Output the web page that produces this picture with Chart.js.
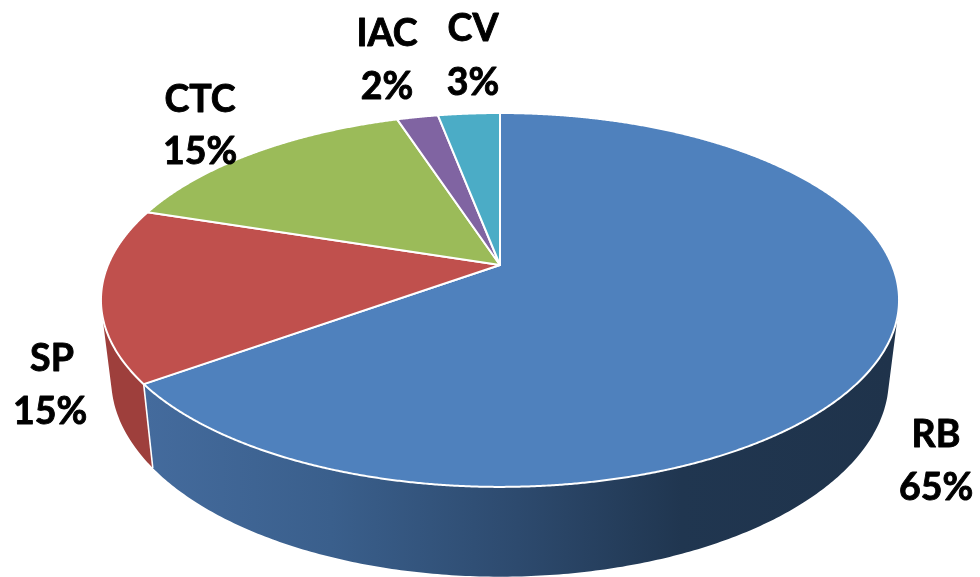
<!DOCTYPE html>
<html>
<head>
<meta charset="utf-8">
<style>html,body{margin:0;padding:0;background:#fff}canvas{display:block}</style>
<script src="https://cdn.jsdelivr.net/npm/chart.js@4/dist/chart.umd.min.js"></script>
</head>
<body>
<canvas id="c" width="980" height="577"></canvas>
<script>
const categories = ["RB", "SP", "CTC", "IAC", "CV"];
const shares = [65, 15, 15, 2, 3];
const faceColors = ["#4F81BD", "#C0504D", "#9BBB59", "#8064A2", "#4BACC6"];
const wallColors = [null, "#9E3F3C", "#7C9647", "#664F82", "#3C899E"];
const labelCenters = [[936, 435], [52, 359], [200, 100], [387, 34], [473, 29]];
const percentCenters = [[936, 488], [50, 412], [200, 152], [387, 87], [473, 83]];

// Perspective view of the disc: centre goes to the apex, the rim becomes an ellipse.
const top3d = {x0: 500, y0: 265, ax: 392, by: 180.4, k: -0.187};
const bottom3d = {x0: 500, y0: 342, ax: 382, by: 190.8, k: -0.187};
function project(p, a, r) {
  const u = Math.cos(a) * r, v = Math.sin(a) * r, w = 1 + p.k * v;
  return [p.x0 + p.ax * u / w, p.y0 + p.by * v / w];
}
function rim(ctx, p, a0, a1, first) {
  const n = Math.max(2, Math.ceil(Math.abs(a1 - a0) / 0.004));
  for (let i = 0; i <= n; i++) {
    const q = project(p, a0 + (a1 - a0) * i / n, 1);
    if (i === 0 && first) ctx.moveTo(q[0], q[1]); else ctx.lineTo(q[0], q[1]);
  }
}
// The wall is the sweep of the rim's vertical edge, so build it from same-winding quads.
function wallPath(ctx, a0, a1) {
  const n = Math.max(2, Math.ceil(Math.abs(a1 - a0) / 0.01));
  ctx.beginPath();
  for (let i = 0; i < n; i++) {
    const s = a0 + (a1 - a0) * i / n, t = a0 + (a1 - a0) * (i + 1) / n;
    const q = [project(top3d, s, 1), project(top3d, t, 1), project(bottom3d, t, 1), project(bottom3d, s, 1)];
    let area = 0;
    q.forEach((m, j) => { const o = q[(j + 1) % 4]; area += m[0] * o[1] - o[0] * m[1]; });
    if (area < 0) q.reverse();
    ctx.moveTo(q[0][0], q[0][1]);
    ctx.lineTo(q[1][0], q[1][1]);
    ctx.lineTo(q[2][0], q[2][1]);
    ctx.lineTo(q[3][0], q[3][1]);
    ctx.closePath();
  }
}
const pie3d = {
  id: "pie3d",
  beforeDatasetDraw(chart) {
    const ctx = chart.ctx, arcs = chart.getDatasetMeta(0).data;
    ctx.save();
    // side walls
    const grad = ctx.createLinearGradient(145, 0, 890, 0);
    grad.addColorStop(0, "#446B9D");
    grad.addColorStop(0.25, "#3A5F8C");
    grad.addColorStop(0.5, "#2D4A6E");
    grad.addColorStop(0.72, "#203650");
    grad.addColorStop(1, "#1F334B");
    arcs.forEach((el, i) => {
      wallPath(ctx, el.startAngle, el.endAngle);
      ctx.fillStyle = i === 0 ? grad : wallColors[i];
      ctx.fill();
    });
    // edge between the two front walls
    const e = arcs[0].endAngle, p1 = project(top3d, e, 1), p2 = project(bottom3d, e, 1);
    ctx.strokeStyle = "#fff";
    ctx.lineWidth = 1.6;
    ctx.beginPath(); ctx.moveTo(p1[0], p1[1]); ctx.lineTo(p2[0], p2[1]); ctx.stroke();
    // top faces
    arcs.forEach((el, i) => {
      const c = project(top3d, 0, 0);
      ctx.beginPath();
      ctx.moveTo(c[0], c[1]);
      rim(ctx, top3d, el.startAngle, el.endAngle, false);
      ctx.closePath();
      ctx.fillStyle = el.options.backgroundColor;
      ctx.fill();
      ctx.strokeStyle = "#fff";
      ctx.lineWidth = 2;
      ctx.lineJoin = "round";
      ctx.stroke();
    });
    ctx.restore();
    return false;
  },
  afterDatasetsDraw(chart) {
    const ctx = chart.ctx, data = chart.data.datasets[0].data;
    ctx.save();
    ctx.fillStyle = "#000";
    ctx.strokeStyle = "#000";
    ctx.lineWidth = 0.9;
    ctx.lineJoin = "round";
    ctx.font = "bold 37.5px Lato, 'Open Sans', sans-serif";
    ctx.textAlign = "center";
    ctx.textBaseline = "middle";
    chart.data.labels.forEach((name, i) => {
      const pct = data[i] + "%";
      ctx.fillText(name, labelCenters[i][0], labelCenters[i][1]);
      ctx.strokeText(name, labelCenters[i][0], labelCenters[i][1]);
      ctx.fillText(pct, percentCenters[i][0], percentCenters[i][1]);
      ctx.strokeText(pct, percentCenters[i][0], percentCenters[i][1]);
    });
    ctx.restore();
  }
};
new Chart(document.getElementById("c"), {
  type: "pie",
  data: {
    labels: categories,
    datasets: [{data: shares, backgroundColor: faceColors, borderColor: "#fff", borderWidth: 2}]
  },
  options: {
    responsive: false,
    animation: false,
    rotation: 0,
    layout: {padding: 0},
    plugins: {legend: {display: false}, tooltip: {enabled: false}}
  },
  plugins: [pie3d]
});
</script>
</body>
</html>
